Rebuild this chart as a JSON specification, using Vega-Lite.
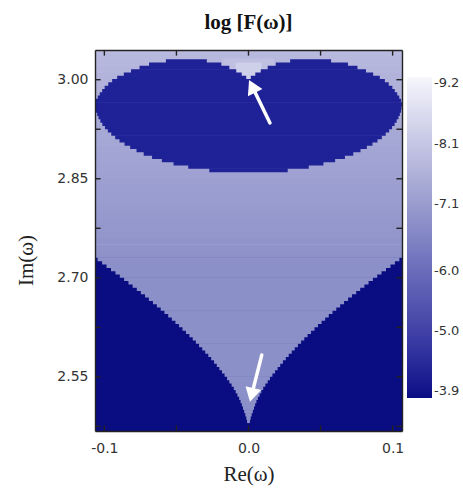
{
  "$schema": "https://vega.github.io/schema/vega-lite/v6.json",
  "width": 307,
  "height": 381,
  "autosize": {"type": "none"},
  "padding": {"left": 95, "top": 50, "right": 61, "bottom": 69},
  "background": "white",
  "title": {"text": "log [F(ω)]", "font": "Liberation Serif", "fontSize": 21, "fontWeight": "bold", "color": "#111", "offset": 16, "anchor": "middle"},
  "config": {"view": {"stroke": null}},
  "datasets": {
    "grid": [
      {"a": -0.11, "b": 0.11, "c": 2.73, "d": 2.741, "v": -6.85},
      {"a": -0.11, "b": 0.11, "c": 2.74, "d": 2.751, "v": -6.88},
      {"a": -0.11, "b": 0.11, "c": 2.75, "d": 2.761, "v": -6.91},
      {"a": -0.11, "b": 0.11, "c": 2.76, "d": 2.771, "v": -6.94},
      {"a": -0.11, "b": 0.11, "c": 2.77, "d": 2.781, "v": -6.97},
      {"a": -0.11, "b": 0.11, "c": 2.78, "d": 2.791, "v": -7.0},
      {"a": -0.11, "b": 0.11, "c": 2.79, "d": 2.801, "v": -7.03},
      {"a": -0.11, "b": 0.11, "c": 2.80, "d": 2.811, "v": -7.06},
      {"a": -0.11, "b": 0.11, "c": 2.81, "d": 2.821, "v": -7.09},
      {"a": -0.11, "b": 0.11, "c": 2.82, "d": 2.831, "v": -7.12},
      {"a": -0.11, "b": 0.11, "c": 2.83, "d": 2.841, "v": -7.15},
      {"a": -0.11, "b": 0.11, "c": 2.84, "d": 2.851, "v": -7.18},
      {"a": -0.11, "b": 0.11, "c": 2.85, "d": 2.861, "v": -7.21},
      {"a": -0.11, "b": 0.11, "c": 2.86, "d": 2.871, "v": -7.24},
      {"a": -0.11, "b": 0.11, "c": 2.87, "d": 2.881, "v": -7.27},
      {"a": -0.11, "b": 0.11, "c": 2.88, "d": 2.891, "v": -7.3},
      {"a": -0.11, "b": 0.11, "c": 2.89, "d": 2.901, "v": -7.33},
      {"a": -0.11, "b": 0.11, "c": 2.90, "d": 2.911, "v": -7.36},
      {"a": -0.11, "b": 0.11, "c": 2.91, "d": 2.921, "v": -7.39},
      {"a": -0.11, "b": 0.11, "c": 2.92, "d": 2.931, "v": -7.42},
      {"a": -0.11, "b": 0.11, "c": 2.93, "d": 2.941, "v": -7.45},
      {"a": -0.11, "b": 0.11, "c": 2.94, "d": 2.951, "v": -7.48},
      {"a": -0.11, "b": 0.11, "c": 2.95, "d": 2.961, "v": -7.51},
      {"a": -0.11, "b": 0.11, "c": 2.96, "d": 2.971, "v": -7.54},
      {"a": -0.11, "b": 0.11, "c": 2.97, "d": 2.981, "v": -7.57},
      {"a": -0.11, "b": 0.11, "c": 2.98, "d": 2.991, "v": -7.6},
      {"a": -0.11, "b": 0.11, "c": 2.99, "d": 3.001, "v": -7.63},
      {"a": -0.11, "b": 0.11, "c": 3.00, "d": 3.011, "v": -7.66},
      {"a": -0.11, "b": 0.11, "c": 3.01, "d": 3.021, "v": -7.7},
      {"a": -0.11, "b": 0.11, "c": 3.02, "d": 3.031, "v": -7.74},
      {"a": -0.11, "b": 0.11, "c": 3.03, "d": 3.041, "v": -7.78},
      {"a": -0.11, "b": 0.11, "c": 3.04, "d": 3.051, "v": -7.82},
      {"a": -0.11, "b": 0.11, "c": 2.46, "d": 2.7305, "v": -3.9},
      {"a": -0.0010, "b": 0.0010, "c": 2.480, "d": 2.486, "v": -6.8},
      {"a": -0.0015, "b": 0.0015, "c": 2.485, "d": 2.491, "v": -6.8},
      {"a": -0.0022, "b": 0.0022, "c": 2.490, "d": 2.496, "v": -6.8},
      {"a": -0.0030, "b": 0.0030, "c": 2.495, "d": 2.501, "v": -6.8},
      {"a": -0.0038, "b": 0.0038, "c": 2.500, "d": 2.506, "v": -6.8},
      {"a": -0.0046, "b": 0.0046, "c": 2.505, "d": 2.511, "v": -6.8},
      {"a": -0.0055, "b": 0.0055, "c": 2.510, "d": 2.516, "v": -6.8},
      {"a": -0.0065, "b": 0.0065, "c": 2.515, "d": 2.521, "v": -6.8},
      {"a": -0.0077, "b": 0.0077, "c": 2.520, "d": 2.526, "v": -6.8},
      {"a": -0.0089, "b": 0.0089, "c": 2.525, "d": 2.531, "v": -6.8},
      {"a": -0.0102, "b": 0.0102, "c": 2.530, "d": 2.536, "v": -6.8},
      {"a": -0.0117, "b": 0.0117, "c": 2.535, "d": 2.541, "v": -6.8},
      {"a": -0.0133, "b": 0.0133, "c": 2.540, "d": 2.546, "v": -6.8},
      {"a": -0.0149, "b": 0.0149, "c": 2.545, "d": 2.551, "v": -6.8},
      {"a": -0.0166, "b": 0.0166, "c": 2.550, "d": 2.556, "v": -6.8},
      {"a": -0.0184, "b": 0.0184, "c": 2.555, "d": 2.561, "v": -6.8},
      {"a": -0.0202, "b": 0.0202, "c": 2.560, "d": 2.566, "v": -6.8},
      {"a": -0.0220, "b": 0.0220, "c": 2.565, "d": 2.571, "v": -6.8},
      {"a": -0.0239, "b": 0.0239, "c": 2.570, "d": 2.576, "v": -6.8},
      {"a": -0.0259, "b": 0.0259, "c": 2.575, "d": 2.581, "v": -6.8},
      {"a": -0.0279, "b": 0.0279, "c": 2.580, "d": 2.586, "v": -6.8},
      {"a": -0.0300, "b": 0.0300, "c": 2.585, "d": 2.591, "v": -6.8},
      {"a": -0.0321, "b": 0.0321, "c": 2.590, "d": 2.596, "v": -6.8},
      {"a": -0.0343, "b": 0.0343, "c": 2.595, "d": 2.601, "v": -6.8},
      {"a": -0.0365, "b": 0.0365, "c": 2.600, "d": 2.606, "v": -6.8},
      {"a": -0.0387, "b": 0.0387, "c": 2.605, "d": 2.611, "v": -6.8},
      {"a": -0.0410, "b": 0.0410, "c": 2.610, "d": 2.616, "v": -6.8},
      {"a": -0.0434, "b": 0.0434, "c": 2.615, "d": 2.621, "v": -6.8},
      {"a": -0.0458, "b": 0.0458, "c": 2.620, "d": 2.626, "v": -6.8},
      {"a": -0.0482, "b": 0.0482, "c": 2.625, "d": 2.631, "v": -6.8},
      {"a": -0.0507, "b": 0.0507, "c": 2.630, "d": 2.636, "v": -6.8},
      {"a": -0.0532, "b": 0.0532, "c": 2.635, "d": 2.641, "v": -6.8},
      {"a": -0.0557, "b": 0.0557, "c": 2.640, "d": 2.646, "v": -6.8},
      {"a": -0.0583, "b": 0.0583, "c": 2.645, "d": 2.651, "v": -6.8},
      {"a": -0.0609, "b": 0.0609, "c": 2.650, "d": 2.656, "v": -6.8},
      {"a": -0.0636, "b": 0.0636, "c": 2.655, "d": 2.661, "v": -6.8},
      {"a": -0.0663, "b": 0.0663, "c": 2.660, "d": 2.666, "v": -6.8},
      {"a": -0.0691, "b": 0.0691, "c": 2.665, "d": 2.671, "v": -6.8},
      {"a": -0.0718, "b": 0.0718, "c": 2.670, "d": 2.676, "v": -6.8},
      {"a": -0.0747, "b": 0.0747, "c": 2.675, "d": 2.681, "v": -6.8},
      {"a": -0.0775, "b": 0.0775, "c": 2.680, "d": 2.686, "v": -6.8},
      {"a": -0.0804, "b": 0.0804, "c": 2.685, "d": 2.691, "v": -6.8},
      {"a": -0.0833, "b": 0.0833, "c": 2.690, "d": 2.696, "v": -6.8},
      {"a": -0.0863, "b": 0.0863, "c": 2.695, "d": 2.701, "v": -6.8},
      {"a": -0.0893, "b": 0.0893, "c": 2.700, "d": 2.706, "v": -6.8},
      {"a": -0.0923, "b": 0.0923, "c": 2.705, "d": 2.711, "v": -6.8},
      {"a": -0.0954, "b": 0.0954, "c": 2.710, "d": 2.716, "v": -6.8},
      {"a": -0.0985, "b": 0.0985, "c": 2.715, "d": 2.721, "v": -6.8},
      {"a": -0.1016, "b": 0.1016, "c": 2.720, "d": 2.726, "v": -6.8},
      {"a": -0.1047, "b": 0.1047, "c": 2.725, "d": 2.731, "v": -6.82},
      {"a": -0.018, "b": 0.018, "c": 3.0, "d": 3.032, "v": -7.95},
      {"a": -0.009, "b": 0.009, "c": 3.0, "d": 3.026, "v": -8.3},
      {"a": -0.0272, "b": 0.0272, "c": 2.860, "d": 2.866, "v": -4.3},
      {"a": -0.0418, "b": 0.0418, "c": 2.865, "d": 2.871, "v": -4.3},
      {"a": -0.0520, "b": 0.0520, "c": 2.870, "d": 2.876, "v": -4.3},
      {"a": -0.0601, "b": 0.0601, "c": 2.875, "d": 2.881, "v": -4.3},
      {"a": -0.0669, "b": 0.0669, "c": 2.880, "d": 2.886, "v": -4.3},
      {"a": -0.0727, "b": 0.0727, "c": 2.885, "d": 2.891, "v": -4.3},
      {"a": -0.0777, "b": 0.0777, "c": 2.890, "d": 2.896, "v": -4.3},
      {"a": -0.0821, "b": 0.0821, "c": 2.895, "d": 2.901, "v": -4.3},
      {"a": -0.0860, "b": 0.0860, "c": 2.900, "d": 2.906, "v": -4.3},
      {"a": -0.0895, "b": 0.0895, "c": 2.905, "d": 2.911, "v": -4.3},
      {"a": -0.0925, "b": 0.0925, "c": 2.910, "d": 2.916, "v": -4.3},
      {"a": -0.0952, "b": 0.0952, "c": 2.915, "d": 2.921, "v": -4.3},
      {"a": -0.0976, "b": 0.0976, "c": 2.920, "d": 2.926, "v": -4.3},
      {"a": -0.0996, "b": 0.0996, "c": 2.925, "d": 2.931, "v": -4.3},
      {"a": -0.1014, "b": 0.1014, "c": 2.930, "d": 2.936, "v": -4.3},
      {"a": -0.1028, "b": 0.1028, "c": 2.935, "d": 2.941, "v": -4.3},
      {"a": -0.1041, "b": 0.1041, "c": 2.940, "d": 2.946, "v": -4.3},
      {"a": -0.1050, "b": 0.1050, "c": 2.945, "d": 2.951, "v": -4.3},
      {"a": -0.1058, "b": 0.1058, "c": 2.950, "d": 2.956, "v": -4.3},
      {"a": -0.1062, "b": 0.1062, "c": 2.955, "d": 2.961, "v": -4.3},
      {"a": -0.11, "b": 0.11, "c": 2.960, "d": 2.966, "v": -4.3},
      {"a": -0.1059, "b": 0.1059, "c": 2.965, "d": 2.971, "v": -4.3},
      {"a": -0.1046, "b": 0.1046, "c": 2.970, "d": 2.976, "v": -4.3},
      {"a": -0.1032, "b": 0.1032, "c": 2.975, "d": 2.981, "v": -4.3},
      {"a": -0.1015, "b": 0.1015, "c": 2.980, "d": 2.986, "v": -4.3},
      {"a": -0.0998, "b": 0.0998, "c": 2.985, "d": 2.991, "v": -4.3},
      {"a": -0.0973, "b": 0.0973, "c": 2.990, "d": 2.996, "v": -4.3},
      {"a": -0.0946, "b": 0.0946, "c": 2.995, "d": 3.001, "v": -4.3},
      {"a": -0.0911, "b": -0.0016, "c": 3.000, "d": 3.006, "v": -4.3},
      {"a": 0.0016, "b": 0.0911, "c": 3.000, "d": 3.006, "v": -4.3},
      {"a": -0.0865, "b": -0.0047, "c": 3.005, "d": 3.011, "v": -4.3},
      {"a": 0.0047, "b": 0.0865, "c": 3.005, "d": 3.011, "v": -4.3},
      {"a": -0.0815, "b": -0.0085, "c": 3.010, "d": 3.016, "v": -4.3},
      {"a": 0.0085, "b": 0.0815, "c": 3.010, "d": 3.016, "v": -4.3},
      {"a": -0.0756, "b": -0.0133, "c": 3.015, "d": 3.021, "v": -4.3},
      {"a": 0.0133, "b": 0.0756, "c": 3.015, "d": 3.021, "v": -4.3},
      {"a": -0.0690, "b": -0.0189, "c": 3.020, "d": 3.026, "v": -4.3},
      {"a": 0.0189, "b": 0.0690, "c": 3.020, "d": 3.026, "v": -4.3},
      {"a": -0.0573, "b": -0.0289, "c": 3.025, "d": 3.031, "v": -4.3},
      {"a": 0.0289, "b": 0.0573, "c": 3.025, "d": 3.031, "v": -4.3}
    ],
    "arrows": [
      {"x": 0.0149, "y": 2.9344, "x2": 0.0025, "y2": 2.990, "ang": 334},
      {"x": 0.0092, "y": 2.583, "x2": 0.0022, "y2": 2.5227, "ang": 194}
    ],
    "ticksx": [
      {"t": -0.1, "c": 2.468, "d": 2.4765, "c2": 3.0365, "d2": 3.045},
      {"t": -0.05, "c": 2.468, "d": 2.4765, "c2": 3.0365, "d2": 3.045},
      {"t": 0, "c": 2.468, "d": 2.4765, "c2": 3.0365, "d2": 3.045},
      {"t": 0.05, "c": 2.468, "d": 2.4765, "c2": 3.0365, "d2": 3.045},
      {"t": 0.1, "c": 2.468, "d": 2.4765, "c2": 3.0365, "d2": 3.045}
    ],
    "ticksy": [
      {"t": 2.475, "a": -0.1065, "b": -0.1026, "a2": 0.1026, "b2": 0.1065},
      {"t": 2.55, "a": -0.1065, "b": -0.1026, "a2": 0.1026, "b2": 0.1065},
      {"t": 2.625, "a": -0.1065, "b": -0.1026, "a2": 0.1026, "b2": 0.1065},
      {"t": 2.7, "a": -0.1065, "b": -0.1026, "a2": 0.1026, "b2": 0.1065},
      {"t": 2.775, "a": -0.1065, "b": -0.1026, "a2": 0.1026, "b2": 0.1065},
      {"t": 2.85, "a": -0.1065, "b": -0.1026, "a2": 0.1026, "b2": 0.1065},
      {"t": 2.925, "a": -0.1065, "b": -0.1026, "a2": 0.1026, "b2": 0.1065},
      {"t": 3.0, "a": -0.1065, "b": -0.1026, "a2": 0.1026, "b2": 0.1065}
    ]
  },
  "layer": [
    {
      "data": {"name": "grid"},
      "mark": {"type": "rect", "clip": true},
      "encoding": {
        "x": {"field": "a", "type": "quantitative",
          "scale": {"domain": [-0.1065, 0.1065], "nice": false, "zero": false},
          "axis": {"orient": "bottom", "values": [-0.1, -0.05, 0, 0.05, 0.1],
            "labelExpr": "round(datum.value*20)%2==0 ? replace(format(datum.value,'.1f'),'−','-') : ''",
            "title": "Re(ω)", "titleFont": "Liberation Serif", "titleFontSize": 21, "titleFontWeight": "normal", "titleColor": "#222", "titlePadding": 8,
            "labelFont": "DejaVu Sans", "labelFontSize": 14, "labelColor": "#333", "labelPadding": 10,
            "ticks": false, "domain": true, "domainColor": "#222", "domainWidth": 1.4, "grid": false, "zindex": 2}},
        "x2": {"field": "b"},
        "y": {"field": "c", "type": "quantitative",
          "scale": {"domain": [2.468, 3.045], "nice": false, "zero": false},
          "axis": {"orient": "left", "values": [2.475, 2.55, 2.625, 2.7, 2.775, 2.85, 2.925, 3.0],
            "labelExpr": "round(datum.value*1000)%150==0 ? format(datum.value,'.2f') : ''",
            "title": "Im(ω)", "titleFont": "Liberation Serif", "titleFontSize": 21, "titleFontWeight": "normal", "titleColor": "#222", "titlePadding": 20, "titleY": 210,
            "labelFont": "DejaVu Sans", "labelFontSize": 14, "labelColor": "#333", "labelPadding": 7,
            "ticks": false, "domain": true, "domainColor": "#222", "domainWidth": 1.4, "grid": false, "zindex": 2}},
        "y2": {"field": "d"},
        "color": {"field": "v", "type": "quantitative",
          "scale": {"domain": [-3.9, -4.3, -6.8, -9.2], "range": ["#0a0c82", "#1e2296", "#8c90c8", "#f6f6fc"]},
          "legend": {"orient": "none", "legendX": 312, "legendY": 27, "direction": "vertical",
            "gradientLength": 321, "gradientThickness": 25, "title": null,
            "values": [-9.2, -8.1, -7.1, -6.0, -5.0, -3.9],
            "labelExpr": "replace(format(datum.value,'.1f'),'−','-')",
            "labelFont": "DejaVu Sans", "labelFontSize": 13, "labelColor": "#333", "gradientStrokeWidth": 0}}
      }
    },
    {
      "data": {"name": "arrows"},
      "mark": {"type": "rule", "color": "white", "strokeWidth": 3.5, "strokeCap": "round"},
      "encoding": {
        "x": {"field": "x", "type": "quantitative", "scale": {"domain": [-0.1065, 0.1065], "nice": false, "zero": false}, "axis": null},
        "y": {"field": "y", "type": "quantitative", "scale": {"domain": [2.468, 3.045], "nice": false, "zero": false}, "axis": null},
        "x2": {"field": "x2"},
        "y2": {"field": "y2"}
      }
    },
    {
      "data": {"name": "arrows"},
      "mark": {"type": "point", "shape": "triangle-up", "filled": true, "color": "white", "size": 260, "opacity": 1},
      "encoding": {
        "x": {"field": "x2", "type": "quantitative", "scale": {"domain": [-0.1065, 0.1065], "nice": false, "zero": false}, "axis": null},
        "y": {"field": "y2", "type": "quantitative", "scale": {"domain": [2.468, 3.045], "nice": false, "zero": false}, "axis": null},
        "angle": {"field": "ang", "type": "quantitative", "scale": null}
      }
    },
    {
      "data": {"name": "ticksx"},
      "mark": {"type": "rule", "color": "#222", "strokeWidth": 1.4},
      "encoding": {
        "x": {"field": "t", "type": "quantitative", "scale": {"domain": [-0.1065, 0.1065], "nice": false, "zero": false}, "axis": null},
        "y": {"field": "c", "type": "quantitative", "scale": {"domain": [2.468, 3.045], "nice": false, "zero": false}, "axis": null},
        "y2": {"field": "d"}
      }
    },
    {
      "data": {"name": "ticksx"},
      "mark": {"type": "rule", "color": "#222", "strokeWidth": 1.4},
      "encoding": {
        "x": {"field": "t", "type": "quantitative", "scale": {"domain": [-0.1065, 0.1065], "nice": false, "zero": false}, "axis": null},
        "y": {"field": "c2", "type": "quantitative", "scale": {"domain": [2.468, 3.045], "nice": false, "zero": false}, "axis": null},
        "y2": {"field": "d2"}
      }
    },
    {
      "data": {"name": "ticksy"},
      "mark": {"type": "rule", "color": "#222", "strokeWidth": 1.4},
      "encoding": {
        "y": {"field": "t", "type": "quantitative", "scale": {"domain": [2.468, 3.045], "nice": false, "zero": false}, "axis": null},
        "x": {"field": "a", "type": "quantitative", "scale": {"domain": [-0.1065, 0.1065], "nice": false, "zero": false}, "axis": null},
        "x2": {"field": "b"}
      }
    },
    {
      "data": {"name": "ticksy"},
      "mark": {"type": "rule", "color": "#222", "strokeWidth": 1.4},
      "encoding": {
        "y": {"field": "t", "type": "quantitative", "scale": {"domain": [2.468, 3.045], "nice": false, "zero": false},
          "axis": {"orient": "right", "labels": false, "ticks": false, "title": null, "domain": true, "domainColor": "#222", "domainWidth": 1.4, "grid": false, "zindex": 2}},
        "x": {"field": "a2", "type": "quantitative", "scale": {"domain": [-0.1065, 0.1065], "nice": false, "zero": false},
          "axis": {"orient": "top", "labels": false, "ticks": false, "title": null, "domain": true, "domainColor": "#222", "domainWidth": 1.4, "grid": false, "zindex": 2}},
        "x2": {"field": "b2"}
      }
    }
  ],
  "resolve": {"axis": {"x": "independent", "y": "independent"}}
}
